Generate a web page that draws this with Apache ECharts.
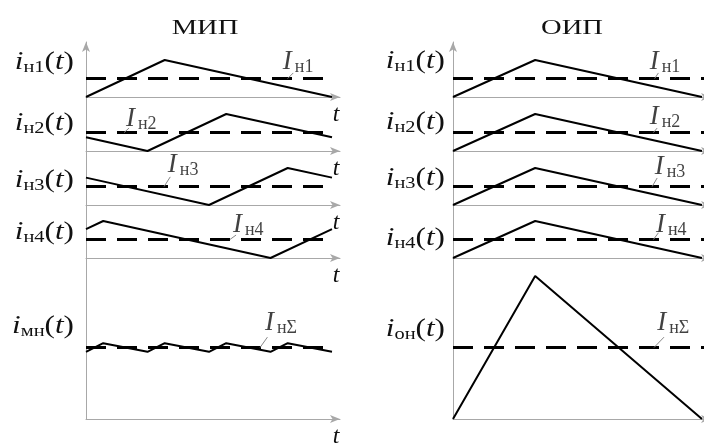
<!DOCTYPE html>
<html><head><meta charset="utf-8">
<script src="https://cdn.jsdelivr.net/npm/echarts@6/dist/echarts.min.js"></script>
<style>html,body{margin:0;padding:0;background:#fff}#c{width:704px;height:444px}</style>
</head><body><div id="c"></div>
<script>
// ---- data: time in quarter-periods (0..4), current in units of one phase's ripple peak ----
const titles = ['МИП', 'ОИП'];
const phaseSubs = ['н1', 'н2', 'н3', 'н4'];
const sumSubs = ['мн', 'он'];
const meanSubs = ['н1', 'н2', 'н3', 'н4', 'нΣ'];
const axisName = 't';

const mipPhase1 = [[0, 0], [1.28, 1], [4, 0]];
const mipPhase2 = [[0, 0.37], [1, 0], [2.28, 1], [4, 0.37]];
const mipPhase3 = [[0, 0.74], [2, 0], [3.28, 1], [4, 0.74]];
const mipPhase4 = [[0, 0.78], [0.28, 1], [3, 0], [4, 0.78]];
const mipSum = [[0, 1.88], [0.28, 2.12], [1, 1.88], [1.28, 2.12], [2, 1.88], [2.28, 2.12], [3, 1.88], [3.28, 2.12], [4, 1.88]];
const oipPhase1 = [[0, 0], [1.32, 1], [4, 0]];
const oipPhase2 = [[0, 0], [1.32, 1], [4, 0]];
const oipPhase3 = [[0, 0], [1.32, 1], [4, 0]];
const oipPhase4 = [[0, 0], [1.32, 1], [4, 0]];
const oipSum = [[0, 0], [1.32, 4], [4, 0]];
const phaseMean = 0.5;
const sumMean = 2.0;

// ---- layout (pixels) and annotation anchors (data coords) ----
const FONT = 'Liberation Serif';
const rowTops = [60, 114, 168, 221], rowH = 37, sumTop = 276, sumH = 143, axTop = 42, axH = 377;
const cols = [
  { left: 86, width: 254, xMax: 4.13, meanEnd: 4, labelRight: 74, titleX: 205,
    phases: [mipPhase1, mipPhase2, mipPhase3, mipPhase4], sum: mipSum,
    labelY: [62, 123, 180, 232, 326],
    notes: [
      { a: [3.2, 0.57], l: [[3.28, 0.5], [3.37, 0.65]] },
      { a: [0.65, 0.49], l: [[0.62, 0.5], [0.70, 0.62]] },
      { a: [1.33, 0.70], l: [[1.27, 0.5], [1.37, 0.76]] },
      { a: [2.39, 0.51], l: [[2.34, 0.5], [2.44, 0.62]] },
      { a: [2.91, 2.29], l: [[2.83, 2.0], [2.95, 2.29]] }
    ] },
  { left: 453, width: 258, xMax: 4.145, meanEnd: 4.1, labelRight: 445, titleX: 572,
    phases: [oipPhase1, oipPhase2, oipPhase3, oipPhase4], sum: oipSum,
    labelY: [61, 122, 178, 238, 329],
    notes: [
      { a: [3.16, 0.57], l: [[3.24, 0.5], [3.3, 0.65]] },
      { a: [3.16, 0.54], l: [[3.22, 0.5], [3.28, 0.62]] },
      { a: [3.24, 0.65], l: [[3.2, 0.5], [3.28, 0.73]] },
      { a: [3.26, 0.51], l: [[3.22, 0.5], [3.3, 0.68]] },
      { a: [3.28, 2.29], l: [[3.23, 2.0], [3.39, 2.29]] }
    ] }
];

const grid = [], xAxis = [], yAxis = [], series = [], graphic = [];
const axisGray = '#a8a8a8';

function addPanel(col, top, height, yMax, wave, mean, note, noteSub) {
  const g = grid.length;
  grid.push({ left: col.left, top: top, width: col.width, height: height, containLabel: false, outerBoundsMode: 'none' });
  xAxis.push({ gridIndex: g, type: 'value', min: 0, max: col.xMax,
    axisLine: { show: true, symbol: ['none', 'arrow'], symbolSize: [6, 10], lineStyle: { color: axisGray, width: 1 } },
    axisTick: { show: false }, axisLabel: { show: false }, splitLine: { show: false },
    name: axisName, nameLocation: 'end', nameGap: -4,
    nameTextStyle: { fontFamily: FONT, fontStyle: 'italic', fontSize: 24, color: '#111', align: 'center', verticalAlign: 'top', padding: [6, 0, 0, 0] } });
  yAxis.push({ gridIndex: g, type: 'value', min: 0, max: yMax, show: false });
  series.push({ type: 'line', xAxisIndex: g, yAxisIndex: g, data: wave, symbol: 'none', clip: false, silent: true,
    lineStyle: { color: '#000', width: 2 }, z: 3 });
  series.push({ type: 'line', xAxisIndex: g, yAxisIndex: g, data: [[0, mean], [col.meanEnd, mean]], symbol: 'none', clip: false, silent: true,
    lineStyle: { color: '#000', width: 3, type: [20, 11] }, z: 2 });
  series.push({ type: 'line', xAxisIndex: g, yAxisIndex: g, data: note.l, symbol: 'none', clip: false, silent: true,
    lineStyle: { color: '#888', width: 1 }, z: 4 });
  series.push({ type: 'scatter', xAxisIndex: g, yAxisIndex: g, data: [note.a], symbolSize: 0, silent: true, clip: false,
    label: { show: true, position: [0, 0], align: 'left', verticalAlign: 'bottom',
      formatter: '{I|I}{s|' + noteSub + '}',
      rich: {
        I: { fontFamily: FONT, fontStyle: 'italic', fontSize: 27, color: '#111', lineHeight: 28 },
        s: { fontFamily: FONT, fontSize: 18, color: '#111', lineHeight: 21, verticalAlign: 'bottom', padding: [0, 0, 0, 3] }
      } }, z: 5 });
}

function yLabel(x, y, sub) {
  graphic.push({ type: 'text', x: x, y: y, scaleX: 1.2, silent: true,
    style: { x: 0, y: 0, align: 'right', verticalAlign: 'middle',
      text: '{i|i}{s|' + sub + '}{p|(}{i|t}{p|)}',
      rich: {
        i: { fontFamily: FONT, fontStyle: 'italic', fontSize: 26, fill: '#111', lineHeight: 28 },
        s: { fontFamily: FONT, fontSize: 17, fill: '#111', lineHeight: 18, verticalAlign: 'bottom' },
        p: { fontFamily: FONT, fontSize: 26, fill: '#111', lineHeight: 28 }
      } } });
}

cols.forEach((col, c) => {
  // continuous vertical axis
  const g = grid.length;
  grid.push({ left: col.left, top: axTop, width: col.width, height: axH, outerBoundsMode: 'none' });
  xAxis.push({ gridIndex: g, type: 'value', min: 0, max: col.xMax, show: false });
  yAxis.push({ gridIndex: g, type: 'value', min: 0, max: 1,
    axisLine: { show: true, symbol: ['none', 'arrow'], symbolSize: [6, 10], lineStyle: { color: axisGray, width: 1 } },
    axisTick: { show: false }, axisLabel: { show: false }, splitLine: { show: false } });

  for (let r = 0; r < 4; r++) {
    addPanel(col, rowTops[r], rowH, 1, col.phases[r], phaseMean, col.notes[r], meanSubs[r]);
    yLabel(col.labelRight, col.labelY[r], phaseSubs[r]);
  }
  addPanel(col, sumTop, sumH, 4, col.sum, sumMean, col.notes[4], meanSubs[4]);
  yLabel(col.labelRight, col.labelY[4], sumSubs[c]);

  graphic.push({ type: 'text', x: col.titleX, y: 28, scaleX: 1.3, silent: true,
    style: { x: 0, y: 0, text: titles[c], align: 'center', verticalAlign: 'middle',
      font: '22px "Liberation Serif"', fill: '#111' } });
});

const chart = echarts.init(document.getElementById('c'));
chart.setOption({ animation: false, backgroundColor: '#fff', grid, xAxis, yAxis, series, graphic });
</script>
</body></html>
